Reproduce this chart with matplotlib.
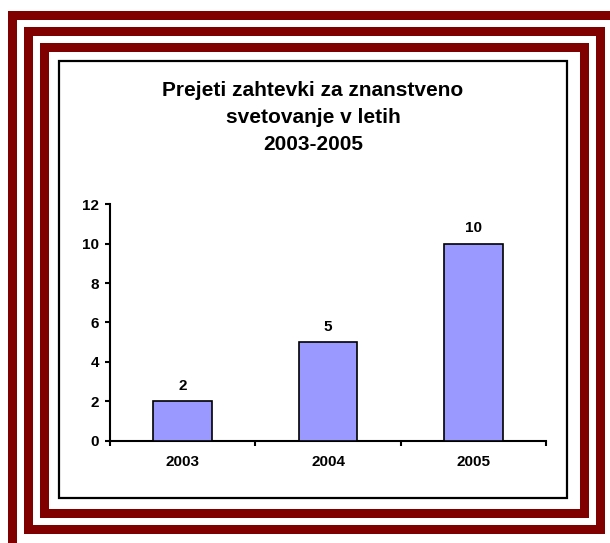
import matplotlib
matplotlib.use("Agg")
import matplotlib.pyplot as plt
from matplotlib.patches import Rectangle
import numpy as np

years = ["2003", "2004", "2005"]
requests = [2, 5, 10]
title = "Prejeti zahtevki za znanstveno\nsvetovanje v letih\n2003-2005"

W, H = 610, 543  # pixels

plt.rcParams["font.family"] = ["Liberation Sans", "DejaVu Sans"]
plt.rcParams["font.weight"] = "bold"

fig = plt.figure(figsize=(W / 100, H / 100), dpi=100)
fig.patch.set_facecolor("white")


def frame(left, top, right, bottom, color, lw):
    # pixel box (from top-left) -> figure fraction rectangle
    r = Rectangle(
        (left / W, 1 - bottom / H),
        (right - left) / W,
        (bottom - top) / H,
        transform=fig.transFigure,
        fill=False,
        edgecolor=color,
        linewidth=lw,
        joinstyle="miter",
        clip_on=False,
    )
    fig.add_artist(r)


# dark red decorative frames, 9 px wide
band = 9 * 72 / 100
frame(11.5, 14.5, 615.5, 544.5, "#800000", band)
frame(27.5, 30.5, 599.5, 528.5, "#800000", band)
frame(43.5, 46.5, 583.5, 512.5, "#800000", band)
# chart area border
frame(58.5, 61, 567, 497.5, "black", 1.6)

# baseline of the last line
fig.text(313 / W, 1 - 150 / H, title, ha="center", va="baseline",
         fontsize=15, fontweight="bold", linespacing=1.52)

ax = fig.add_axes([110 / W, 1 - 440.5 / H, 436 / W, 236.2 / H])
x = np.arange(len(years))
bars = ax.bar(x, requests, width=0.405, color="#9999FF",
              edgecolor="black", linewidth=1.2, zorder=3)
ax.bar_label(bars, labels=[str(v) for v in requests], padding=6,
             fontsize=11, fontweight="bold")

ax.set_xlim(-0.5, len(years) - 0.5)
ax.set_ylim(0, 12)
ax.set_yticks(range(0, 13, 2))
ax.set_xticks(x)
ax.set_xticklabels(years)
ax.set_xticks(np.arange(-0.5, len(years), 1.0), minor=True)

for s in ["top", "right"]:
    ax.spines[s].set_visible(False)
for s in ["left", "bottom"]:
    ax.spines[s].set_linewidth(1.5)

ax.tick_params(axis="y", direction="out", length=3.6, width=1.5,
               labelsize=11, pad=4.3)
ax.tick_params(axis="x", which="major", length=0, labelsize=11, pad=10.5)
ax.tick_params(axis="x", which="minor", direction="out", length=3.6,
               width=1.5)
for lab in ax.get_xticklabels() + ax.get_yticklabels():
    lab.set_fontweight("bold")

fig.savefig("out.png", dpi=100)
